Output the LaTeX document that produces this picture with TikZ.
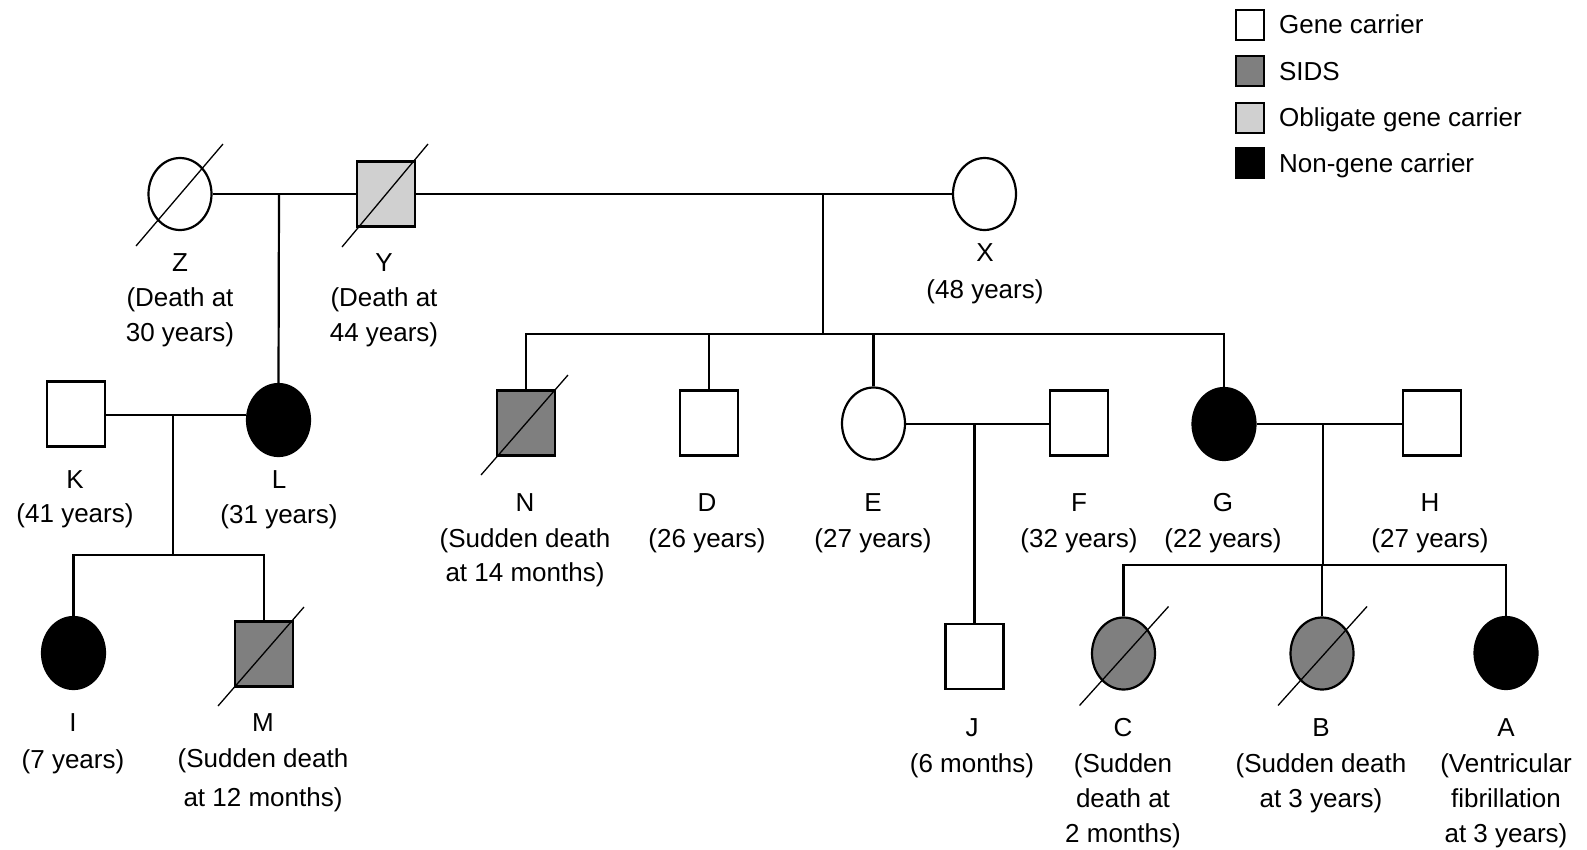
\documentclass[tikz,border=0pt]{standalone}
\usepackage{fontspec}
\setmainfont{Liberation Sans}
\usetikzlibrary{shapes.geometric}
\definecolor{sidsgray}{HTML}{7F7F7F}
\definecolor{obliggray}{HTML}{D0D0D0}
\begin{document}
\begin{tikzpicture}[x=1pt,y=-1pt,
 line width=2.2pt,
 male/.style={draw, rectangle, minimum width=58pt, minimum height=65pt, inner sep=0pt},
 female/.style={draw, ellipse, minimum width=63pt, minimum height=72pt, inner sep=0pt},
 carrier/.style={fill=white},
 sidsfill/.style={fill=sidsgray},
 obl/.style={fill=obliggray},
 noncar/.style={fill=black},
 lbl/.style={anchor=base, inner sep=0pt, font=\fontsize{26}{31}\selectfont},
 deceased/.style={line width=1.3pt},
 conn/.style={line width=2.2pt},
 legbox/.style={draw, rectangle, minimum width=28pt, minimum height=30pt, inner sep=0pt, line width=2pt},
 legtext/.style={anchor=base west, inner sep=0pt, font=\fontsize{26}{31}\selectfont}
]
\useasboundingbox (0,0) rectangle (1587,849);

% ---------- legend ----------
\node[legbox, fill=white] (lg1) at (1250,24.5) {};
\node[legbox, fill=sidsgray] (lg2) at (1250,71) {};
\node[legbox, fill=obliggray] (lg3) at (1250,117.5) {};
\node[legbox, fill=black] (lg4) at (1250,163) {};
\node[legtext] (lt1) at (1278,33.5) {Gene carrier};
\node[legtext] (lt2) at (1278,80) {SIDS};
\node[legtext] (lt3) at (1278,126.5) {Obligate gene carrier};
\node[legtext] (lt4) at (1278,172) {Non-gene carrier};

% ---------- generation I ----------
\node[female, carrier] (Z) at (180,194) {};
\node[male, obl] (Y) at (386,194) {};
\node[female, carrier] (X) at (984.5,194) {};

% ---------- generation II ----------
\node[male, carrier] (K) at (76,414) {};
\node[female, noncar] (L) at (278.5,420) {};
\node[male, sidsfill] (N) at (526,423) {};
\node[male, carrier] (D) at (709,423) {};
\node[female, carrier] (E) at (873.5,423.5) {};
\node[male, carrier] (F) at (1079,423) {};
\node[female, noncar] (G) at (1224,424) {};
\node[male, carrier] (H) at (1432,423) {};

% ---------- generation III ----------
\node[female, noncar] (I) at (73.5,653) {};
\node[male, sidsfill] (M) at (264,654) {};
\node[male, carrier] (J) at (974.5,656.5) {};
\node[female, sidsfill] (C) at (1123.5,653.5) {};
\node[female, sidsfill] (B) at (1322,653.5) {};
\node[female, noncar] (A) at (1506,653) {};

% ---------- connectors ----------
\coordinate (zy) at (279,194);
\coordinate (yx) at (823,194);
\coordinate (sib1) at (823,334);
\coordinate (kl) at (173,415);
\coordinate (klsib) at (173,555);
\coordinate (ef) at (974.5,424);
\coordinate (gh) at (1323,424);
\coordinate (ghsib) at (1323,565);

\draw[conn] (Z.east) -- (Y.west);
\draw[conn] (zy) -- (L.north);
\draw[conn] (Y.east) -- (X.west);
\draw[conn] (yx) -- (sib1);
\draw[conn] (N.north) |- (sib1) -| (G.north);
\draw[conn] (D.north) -- (D.north |- sib1);
\draw[conn] (E.north) -- (E.north |- sib1);

\draw[conn] (K.east |- kl) -- (kl) -- (kl -| L.west);
\draw[conn] (kl) -- (klsib);
\draw[conn] (I.north) |- (klsib) -| (M.north);

\draw[conn] (E.east |- ef) -- (ef) -- (ef -| F.west);
\draw[conn] (ef) -- (J.north);

\draw[conn] (G.east |- gh) -- (gh) -- (gh -| H.west);
\draw[conn] (gh) -- (ghsib);
\draw[conn] (C.north) |- (ghsib) -| (A.north);
\draw[conn] (B.north) -- (B.north |- ghsib);

% ---------- deceased slashes ----------
\draw[deceased] (Z.center) ++(-44,52) -- ++(87,-102);
\draw[deceased] (Y.center) ++(-44,53) -- ++(86,-103);
\draw[deceased] (N.center) ++(-45,52) -- ++(87,-100);
\draw[deceased] (M.center) ++(-46,52) -- ++(86,-99);
\draw[deceased] (C.center) ++(-44,52) -- ++(89,-99);
\draw[deceased] (B.center) ++(-44,52) -- ++(89,-99);

% ---------- labels ----------
\node[lbl] (Zl1) at (180,271) {Z};
\node[lbl] (Zl2) at (180,306) {(Death at};
\node[lbl] (Zl3) at (180,341) {30 years)};
\node[lbl] (Yl1) at (384,271) {Y};
\node[lbl] (Yl2) at (384,306) {(Death at};
\node[lbl] (Yl3) at (384,341) {44 years)};
\node[lbl] (Xl1) at (985,261) {X};
\node[lbl] (Xl2) at (985,298) {(48 years)};

\node[lbl] (Kl1) at (75,488) {K};
\node[lbl] (Kl2) at (75,522) {(41 years)};
\node[lbl] (Ll1) at (279,488) {L};
\node[lbl] (Ll2) at (279,523) {(31 years)};
\node[lbl] (Nl1) at (525,511) {N};
\node[lbl] (Nl2) at (525,547) {(Sudden death};
\node[lbl] (Nl3) at (525,581) {at 14 months)};
\node[lbl] (Dl1) at (707,511) {D};
\node[lbl] (Dl2) at (707,547) {(26 years)};
\node[lbl] (El1) at (873,511) {E};
\node[lbl] (El2) at (873,547) {(27 years)};
\node[lbl] (Fl1) at (1079,511) {F};
\node[lbl] (Fl2) at (1079,547) {(32 years)};
\node[lbl] (Gl1) at (1223,511) {G};
\node[lbl] (Gl2) at (1223,547) {(22 years)};
\node[lbl] (Hl1) at (1430,511) {H};
\node[lbl] (Hl2) at (1430,547) {(27 years)};

\node[lbl] (Il1) at (73,731) {I};
\node[lbl] (Il2) at (73,768) {(7 years)};
\node[lbl] (Ml1) at (263,731) {M};
\node[lbl] (Ml2) at (263,767) {(Sudden death};
\node[lbl] (Ml3) at (263,806) {at 12 months)};
\node[lbl] (Jl1) at (972,736) {J};
\node[lbl] (Jl2) at (972,772) {(6 months)};
\node[lbl] (Cl1) at (1123,736) {C};
\node[lbl] (Cl2) at (1123,772) {(Sudden};
\node[lbl] (Cl3) at (1123,807) {death at};
\node[lbl] (Cl4) at (1123,842) {2 months)};
\node[lbl] (Bl1) at (1321,736) {B};
\node[lbl] (Bl2) at (1321,772) {(Sudden death};
\node[lbl] (Bl3) at (1321,807) {at 3 years)};
\node[lbl] (Al1) at (1506,736) {A};
\node[lbl] (Al2) at (1506,772) {(Ventricular};
\node[lbl] (Al3) at (1506,807) {fibrillation};
\node[lbl] (Al4) at (1506,842) {at 3 years)};
\end{tikzpicture}
\end{document}
